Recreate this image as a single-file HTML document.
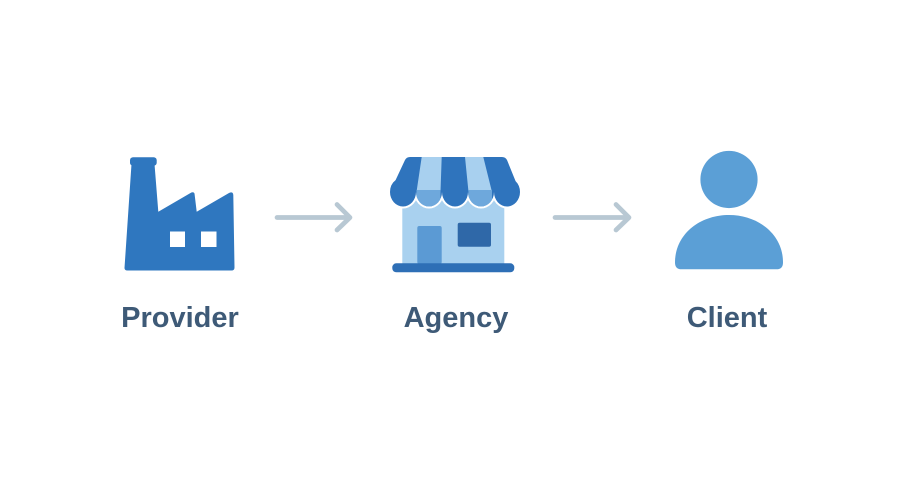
<!DOCTYPE html>
<html>
<head>
<meta charset="utf-8">
<style>
  html,body{margin:0;padding:0;background:#ffffff;}
  body{width:900px;height:486px;overflow:hidden;}
  svg{display:block;}
  text{font-family:"Liberation Sans", sans-serif;font-weight:bold;fill:#3e5a77;}
</style>
</head>
<body>
<svg width="900" height="486" viewBox="0 0 900 486" xmlns="http://www.w3.org/2000/svg">
  <rect width="900" height="486" fill="#ffffff"/>

  <!-- Factory -->
  <g fill="#2f77bf">
    <rect x="130" y="157.3" width="26.7" height="8.5" rx="3"/>
    <path d="M124.5 268 L131.5 164 L154.5 164 L158.3 211.7 L190.5 193 Q193.5 191.3 194.5 193.5 L196.7 211.7 L229 193 Q233 191.2 233.3 195 L234.5 267.5 Q234.5 270.5 231.5 270.5 L127.5 270.5 Q124.5 270.5 124.5 268 Z"/>
  </g>
  <rect x="170" y="231.5" width="15" height="15.5" fill="#ffffff"/>
  <rect x="201" y="231.5" width="15.5" height="15.5" fill="#ffffff"/>

  <!-- Arrow 1 -->
  <g stroke="#b8c8d3" stroke-width="4.7" stroke-linecap="round" stroke-linejoin="round" fill="none">
    <line x1="277" y1="217.5" x2="349" y2="217.5"/>
    <polyline points="337,204.5 350,217.5 337,230"/>
  </g>

  <!-- Store -->
  <defs>
    <clipPath id="aw">
      <path d="M390 192 L405 160 Q406.5 157 410 157 L502 157 Q505.5 157 507 160 L520 192 Z"/>
      <ellipse cx="403" cy="192" rx="13" ry="14.5"/>
      <ellipse cx="429" cy="192" rx="13" ry="14.5"/>
      <ellipse cx="455" cy="192" rx="13" ry="14.5"/>
      <ellipse cx="481" cy="192" rx="13" ry="14.5"/>
      <ellipse cx="507" cy="192" rx="13" ry="14.5"/>
    </clipPath>
  </defs>
  <rect x="402.3" y="198" width="102" height="66" fill="#a9d1ef"/>
  <!-- white outline on scallops -->
  <g fill="#ffffff">
    <ellipse cx="403" cy="192" rx="15" ry="16.5"/>
    <ellipse cx="429" cy="192" rx="15" ry="16.5"/>
    <ellipse cx="455" cy="192" rx="15" ry="16.5"/>
    <ellipse cx="481" cy="192" rx="15" ry="16.5"/>
    <ellipse cx="507" cy="192" rx="15" ry="16.5"/>
  </g>
  <g clip-path="url(#aw)">
    <rect x="385" y="150" width="140" height="65" fill="#2f74bd"/>
    <polygon points="421.7,157 441.7,157 440.5,192 440.5,212 416.5,212 416.5,192" fill="#a8d0ef"/>
    <polygon points="465,157 483.3,157 492,192 492,212 468.5,212 468.5,192" fill="#a8d0ef"/>
    <rect x="416.5" y="190" width="24" height="22" fill="#6ea8dc"/>
    <rect x="468.5" y="190" width="23.5" height="22" fill="#6ea8dc"/>
  </g>
  <rect x="417.3" y="226" width="24.4" height="38" rx="2" fill="#5b9ad4"/>
  <rect x="457.7" y="222.7" width="33.3" height="24" rx="2" fill="#2f68a8"/>
  <rect x="392.3" y="263.3" width="122" height="9" rx="4" fill="#2e6fb6"/>

  <!-- Arrow 2 -->
  <g stroke="#b8c8d3" stroke-width="4.7" stroke-linecap="round" stroke-linejoin="round" fill="none">
    <line x1="555" y1="217.5" x2="628" y2="217.5"/>
    <polyline points="616,204.5 629,217.5 616,230"/>
  </g>

  <!-- Client -->
  <g fill="#5b9fd6">
    <circle cx="729" cy="179.5" r="28.6"/>
    <path d="M675 262.5 C675 234, 700 215, 729 215 C758 215, 783 234, 783 262.5 Q783 269.3 776.5 269.3 L681.5 269.3 Q675 269.3 675 262.5 Z"/>
  </g>

  <!-- Labels -->
  <text x="180" y="327" font-size="29" text-anchor="middle">Provider</text>
  <text x="456" y="327" font-size="29" text-anchor="middle">Agency</text>
  <text x="727" y="327" font-size="29" text-anchor="middle">Client</text>
</svg>
</body>
</html>
